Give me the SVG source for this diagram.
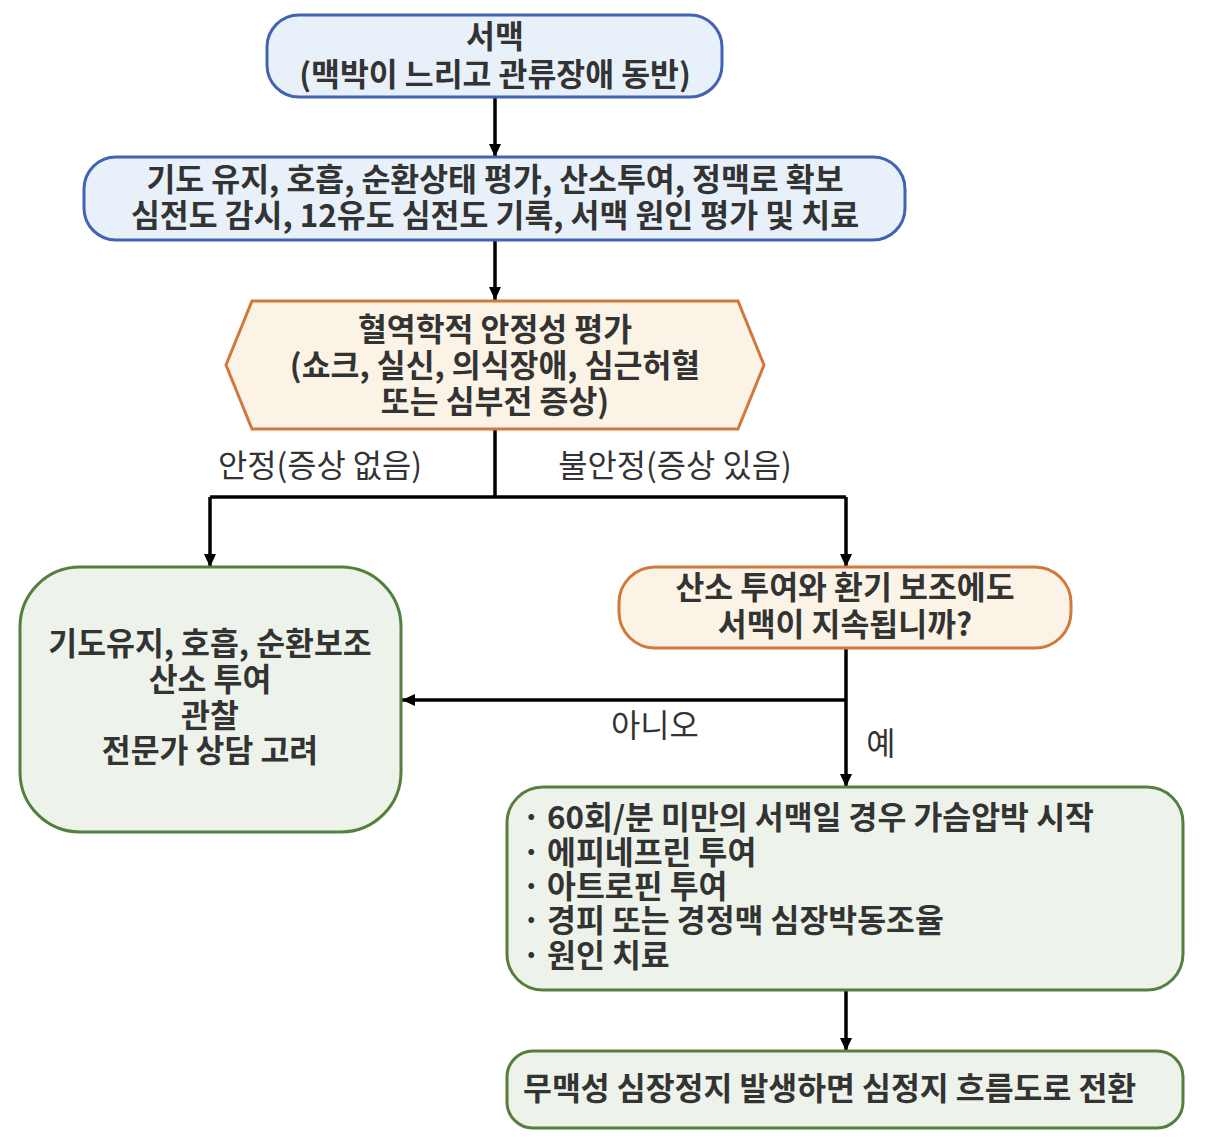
<svg xmlns="http://www.w3.org/2000/svg" width="1206" height="1140" viewBox="0 0 1206 1140">
<defs>
<style>
.t{font-family:"Noto Sans CJK KR","Noto Sans",sans-serif;fill:#333333}
.b{font-weight:700;font-size:31.4px}
.n{font-weight:400;font-size:31.8px}
.blue{fill:#e8f1fa;stroke:#4163b4;stroke-width:3}
.orange{fill:#fbf3e5;stroke:#d1793b;stroke-width:3}
.green{fill:#edf3ea;stroke:#567f3e;stroke-width:3}
.c{fill:none;stroke:#000;stroke-width:3.5}
</style>
<marker id="ah" markerUnits="userSpaceOnUse" markerWidth="14" markerHeight="12" refX="13" refY="6" orient="auto">
<path d="M0,0 L13,6 L0,12 z" fill="#000"/>
</marker>
</defs>
<rect width="1206" height="1140" fill="#ffffff"/>
<g id="connectors">
<path class="c" d="M495,97 V157" marker-end="url(#ah)"/>
<path class="c" d="M495,240 V300" marker-end="url(#ah)"/>
<path class="c" d="M495,429 V497"/>
<path class="c" d="M210,497 H846"/>
<path class="c" d="M210,497 V567" marker-end="url(#ah)"/>
<path class="c" d="M846,497 V567" marker-end="url(#ah)"/>
<path class="c" d="M846,648 V787" marker-end="url(#ah)"/>
<path class="c" d="M846,700 H402" marker-end="url(#ah)"/>
<path class="c" d="M846,990 V1051" marker-end="url(#ah)"/>
<text class="t n" x="320" y="477" text-anchor="middle">안정(증상 없음)</text>
<text class="t n" x="675" y="477" text-anchor="middle">불안정(증상 있음)</text>
<text class="t n" x="655" y="737" text-anchor="middle">아니오</text>
<text class="t n" x="881" y="755" text-anchor="middle">예</text>
</g>
<g id="node-start">
<rect class="blue" x="267" y="15" width="455" height="82" rx="32"/>
<text class="t b" x="495" y="48" text-anchor="middle">서맥</text>
<text class="t b" x="495" y="86" text-anchor="middle">(맥박이 느리고 관류장애 동반)</text>
</g>
<g id="node-initial">
<rect class="blue" x="84" y="157" width="821" height="83" rx="32"/>
<text class="t b" x="495" y="191" text-anchor="middle">기도 유지, 호흡, 순환상태 평가, 산소투여, 정맥로 확보</text>
<text class="t b" x="495" y="227" text-anchor="middle">심전도 감시, 12유도 심전도 기록, 서맥 원인 평가 및 치료</text>
</g>
<g id="node-assess">
<polygon class="orange" points="226,365 252,301 738,301 764,365 738,429 252,429"/>
<text class="t b" x="495" y="341" text-anchor="middle">혈역학적 안정성 평가</text>
<text class="t b" x="495" y="377" text-anchor="middle">(쇼크, 실신, 의식장애, 심근허혈</text>
<text class="t b" x="495" y="413" text-anchor="middle">또는 심부전 증상)</text>
</g>
<g id="node-stable">
<rect class="green" x="20" y="567" width="381" height="265" rx="60"/>
<text class="t b" x="210" y="655" text-anchor="middle">기도유지, 호흡, 순환보조</text>
<text class="t b" x="210" y="691" text-anchor="middle">산소 투여</text>
<text class="t b" x="210" y="727" text-anchor="middle">관찰</text>
<text class="t b" x="210" y="762" text-anchor="middle">전문가 상담 고려</text>
</g>
<g id="node-persist">
<rect class="orange" x="619" y="567" width="452" height="81" rx="36"/>
<text class="t b" x="845" y="599" text-anchor="middle">산소 투여와 환기 보조에도</text>
<text class="t b" x="845" y="636" text-anchor="middle">서맥이 지속됩니까?</text>
</g>
<g id="node-treat">
<rect class="green" x="507" y="787" width="676" height="203" rx="36"/>
<text class="t b" x="522" y="829">·</text>
<text class="t b" x="547" y="829">60회/분 미만의 서맥일 경우 가슴압박 시작</text>
<text class="t b" x="522" y="864">·</text>
<text class="t b" x="547" y="864">에피네프린 투여</text>
<text class="t b" x="522" y="898">·</text>
<text class="t b" x="547" y="898">아트로핀 투여</text>
<text class="t b" x="522" y="932">·</text>
<text class="t b" x="547" y="932">경피 또는 경정맥 심장박동조율</text>
<text class="t b" x="522" y="967">·</text>
<text class="t b" x="547" y="967">원인 치료</text>
</g>
<g id="node-arrest">
<rect class="green" x="507" y="1051" width="676" height="77" rx="26"/>
<text class="t b" x="523" y="1100">무맥성 심장정지 발생하면 심정지 흐름도로 전환</text>
</g>
</svg>
